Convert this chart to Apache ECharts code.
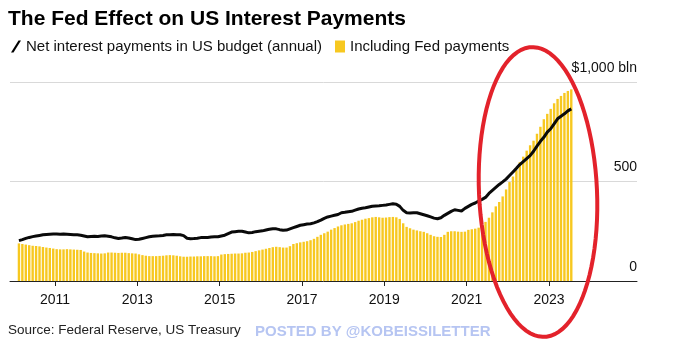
<!DOCTYPE html>
<html>
<head>
<meta charset="utf-8">
<script src="https://cdn.jsdelivr.net/npm/echarts@6/dist/echarts.min.js"></script>
<style>
html,body{margin:0;padding:0;background:#fff;}
#chart{width:680px;height:353px;}
</style>
</head>
<body>
<div id="chart"></div>
<script>
// Monthly data, first value = February 2010, last = July 2023 (US$ bln)
var startYear = 2010;
var startMonth = 2; // February
var fedIncluded = [
  // 2010 Feb-Dec
  189,186,183,180,177,176,174,171,168,166,163,
  // 2011
  160,159,159,160,159,158,157,156,148,143,141,140,
  // 2012
  139,138,139,143,143,142,141,142,142,140,139,138,
  // 2013
  134,130,127,125,125,125,126,127,129,130,129,127,
  // 2014
  124,122,122,123,123,124,124,125,125,125,124,125,
  // 2015
  133,135,136,137,138,138,139,142,143,146,150,154,
  // 2016
  158,162,166,170,172,170,168,168,175,186,190,194,
  // 2017
  197,200,205,212,222,232,240,248,258,266,274,280,
  // 2018
  284,287,290,296,303,308,313,316,320,322,320,318,
  // 2019
  319,321,322,320,312,290,272,265,258,254,250,247,
  // 2020
  240,232,225,222,221,232,247,250,250,248,247,248,
  // 2021
  257,260,263,268,280,297,318,345,375,397,425,460,
  // 2022
  497,525,557,597,625,655,682,705,740,775,813,840,
  // 2023 Jan-Jul
  865,893,915,930,945,955,963
];
var netInterest = [
  // 2010 Feb-Dec
  203,208,214,219,223,226,229,232,234,235,236,
  // 2011
  236,235,236,235,234,233,232,230,226,222,224,225,
  // 2012
  224,226,227,225,222,217,214,216,219,216,212,208,
  // 2013
  210,214,218,222,225,226,227,229,232,233,234,233,
  // 2014
  232,228,215,212,213,215,218,218,219,221,222,222,
  // 2015
  226,230,238,246,248,250,250,246,242,244,248,250,
  // 2016
  252,256,260,263,262,258,255,256,262,268,274,280,
  // 2017
  283,286,288,292,298,306,315,322,326,330,334,343,
  // 2018
  345,348,350,356,362,366,368,372,376,377,378,380,
  // 2019
  382,385,388,386,375,355,343,342,343,343,338,333,
  // 2020
  328,322,316,313,318,330,340,350,358,355,352,365,
  // 2021
  375,385,392,402,410,420,440,455,470,485,498,512,
  // 2022
  530,548,566,585,600,615,630,652,678,702,722,748,
  // 2023 Jan-Jul
  765,790,815,828,840,855,865
];
var yearTicks = [2011, 2013, 2015, 2017, 2019, 2021, 2023];
var yTicks = [0, 500, 1000];

var FONT = "'Liberation Sans',Arial,Helvetica,sans-serif";

function monthX(k) {
  var m0 = (startMonth - 1) + k;
  return startYear + (m0 + 0.5) / 12;
}
var barData = fedIncluded.map(function (v, k) { return [monthX(k), v]; });
var lineData = netInterest.map(function (v, k) { return [monthX(k), v]; });

// hand-drawn red ellipse annotation
var ell = [];
(function () {
  var cx = 538, cy = 192, a = 59, b = 145, rot = -2.6 * Math.PI / 180;
  for (var t = 0; t <= 360; t += 4) {
    var r = t * Math.PI / 180;
    var x = a * Math.cos(r), y = b * Math.sin(r);
    ell.push([cx + x * Math.cos(rot) - y * Math.sin(rot), cy + x * Math.sin(rot) + y * Math.cos(rot)]);
  }
})();

var chart = echarts.init(document.getElementById('chart'), null, {renderer: 'canvas'});
chart.setOption({
  animation: false,
  backgroundColor: '#ffffff',
  title: {
    text: 'The Fed Effect on US Interest Payments',
    left: 3, top: 4,
    textStyle: {fontFamily: FONT, fontWeight: 'bold', fontSize: 21, color: '#000'}
  },
  legend: {
    left: 6, top: 34,
    itemWidth: 10, itemHeight: 12, itemGap: 13,
    textStyle: {fontFamily: FONT, fontSize: 15, color: '#111'},
    data: [
      {name: 'Net interest payments in US budget (annual)', icon: 'path://M7.5,0 L10,0 L2.5,12 L0,12 Z', itemStyle: {color: '#000'}},
      {name: 'Including Fed payments', icon: 'rect', itemStyle: {color: '#f7c820'}}
    ]
  },
  grid: {left: 10, right: 43, top: 82, bottom: 72},
  xAxis: {
    type: 'value',
    min: 2009.908, max: 2025.138,
    axisLine: {show: true, lineStyle: {color: '#222', width: 1}},
    axisTick: {show: true, customValues: yearTicks, length: 5, lineStyle: {color: '#222'}},
    axisLabel: {customValues: yearTicks, fontFamily: FONT, fontSize: 14, color: '#111', margin: 12,
      formatter: function (v) { return String(Math.round(v)); }},
    splitLine: {show: false}
  },
  yAxis: {
    type: 'value', position: 'right',
    min: 0, max: 1000, interval: 500,
    axisLine: {show: false}, axisTick: {show: false},
    splitLine: {lineStyle: {color: '#d9d9d9', width: 1}},
    axisLabel: {
      inside: true, margin: 0, fontFamily: FONT, fontSize: 14, color: '#111',
      verticalAlign: 'bottom', lineHeight: 14, padding: [0, 0, 7, 0],
      formatter: function (v) { return v === 1000 ? '$1,000 bln' : String(v); }
    }
  },
  series: [
    {
      name: 'Including Fed payments', type: 'bar', data: barData,
      barWidth: 2.4, itemStyle: {color: '#f7c820'}, z: 2
    },
    {
      name: 'Net interest payments in US budget (annual)', type: 'line', data: lineData,
      showSymbol: false, symbol: 'none', lineStyle: {color: '#0a0a0a', width: 3}, z: 3
    }
  ],
  graphic: [
    {type: 'text', left: 8, top: 323, style: {text: 'Source: Federal Reserve, US Treasury', fontFamily: FONT, fontSize: 13.5, fill: '#222'}},
    {type: 'text', left: 255, top: 324, style: {text: 'POSTED BY @KOBEISSILETTER', fontFamily: FONT, fontWeight: 'bold', fontSize: 15, fill: '#b6c5f2'}},
    {type: 'polygon', z: 100, shape: {points: ell}, style: {fill: 'none', stroke: '#e3222b', lineWidth: 4}}
  ]
});
</script>
</body>
</html>
